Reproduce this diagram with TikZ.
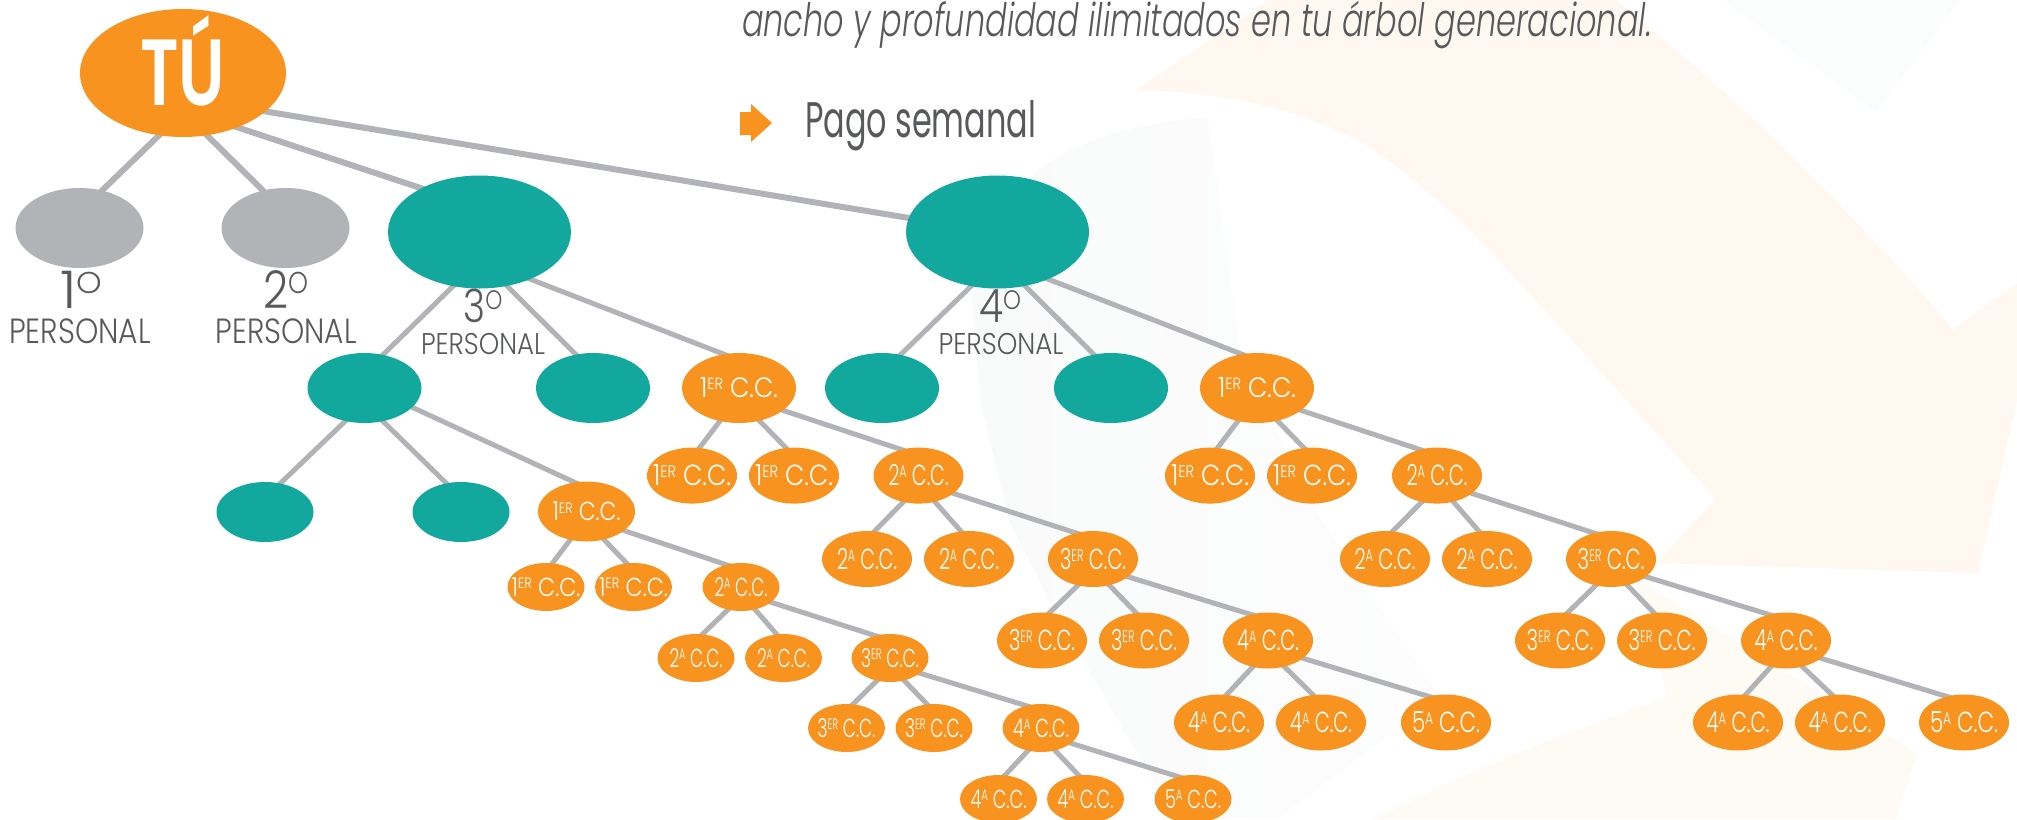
\documentclass[tikz,border=0pt]{standalone}
\usepackage{fontspec}
\usepackage{graphicx}
\setmainfont{Poppins}[UprightFont=* Light,ItalicFont=* Light Italic,BoldFont=* SemiBold]
\newfontfamily\popreg{Poppins}
\usetikzlibrary{shapes.geometric}
\definecolor{orangeC}{HTML}{F7931E}
\definecolor{tealC}{HTML}{12A89D}
\definecolor{greyC}{HTML}{B1B3B6}
\definecolor{inkC}{HTML}{58595B}
\definecolor{paleO}{HTML}{FEF8F1}
\definecolor{paleP}{HTML}{FEFAF4}
\definecolor{paleG}{HTML}{F9FAFA}
\definecolor{paleW}{HTML}{FDFDFD}
\newdimen\pxu \pxu=0.5pt
\newcommand\supr[1]{\raisebox{.28em}{\scalebox{.58}{#1}}}
\newcommand\fitw[2]{\resizebox{#1\pxu}{\height}{#2}}
\newcommand\inell[2]{\makebox[0pt]{\raisebox{-.35em}[0pt][0pt]{\fitw{#1}{#2}}}}
\newcommand\cc[3]{\inell{#1}{#2\supr{#3} C.C.}}
\newcommand\trio[4]{%
  \draw[link] (#1.-120) -- (#2.75);
  \draw[link] (#1.-58) -- (#3.106);
  \draw[link] (#1.-27) -- (#4.123);}
\pgfdeclarelayer{wash}
\pgfdeclarelayer{wires}
\pgfsetlayers{wash,wires,main}
\tikzset{
  x=0.5pt,y=-0.5pt,
  blob/.style={ellipse,inner sep=0pt,outer sep=0pt,text=white},
  tuE/.style={blob,fill=orangeC,minimum width=103pt,minimum height=64pt,font=\fontsize{47}{50}\selectfont\bfseries},
  greyE/.style={blob,fill=greyC,minimum width=64pt,minimum height=40pt},
  tealA/.style={blob,fill=tealC,minimum width=91.5pt,minimum height=56.5pt},
  tealB/.style={blob,fill=tealC,minimum width=57pt,minimum height=35pt},
  tealD/.style={blob,fill=tealC,minimum width=48.5pt,minimum height=30pt},
  orB/.style={blob,fill=orangeC,minimum width=57pt,minimum height=35pt,font=\fontsize{14}{16}\selectfont},
  orD/.style={blob,fill=orangeC,minimum width=48.5pt,minimum height=30pt,font=\fontsize{13}{15}\selectfont},
  orM/.style={blob,fill=orangeC,minimum width=45pt,minimum height=28pt,font=\fontsize{14.5}{16}\selectfont},
  orS/.style={blob,fill=orangeC,minimum width=38.5pt,minimum height=24pt,font=\fontsize{13}{15}\selectfont},
  link/.style={draw=greyC,line width=2.5pt,shorten <=-3pt,shorten >=-3pt},
  linkT/.style={link,line width=3pt},
  txt/.style={inner sep=0pt,outer sep=0pt,text=inkC,anchor=base},
  bigord/.style={txt,font=\fontsize{26}{28}\selectfont},
  midord/.style={txt,font=\fontsize{23}{26}\selectfont},
  perA/.style={txt,font=\fontsize{17.5}{20}\selectfont},
  perB/.style={txt,font=\fontsize{15}{18}\selectfont},
}
\begin{document}
\begin{tikzpicture}
\useasboundingbox (0,0) rectangle (2017,819);
\begin{pgfonlayer}{wash}
  \fill[paleG!60!white] (1723,0) -- (1876,112) -- (1960,0) -- cycle;
  \path[left color=paleG,right color=paleW] (1032,175) .. controls (1080,135) and (1150,122) .. (1208,117)
     -- (1240,353) -- (1313,507) -- (1440,697) -- (1280,817) -- (1190,819)
     -- (1164,800) -- (1056,613) -- (1010,523) -- (980,400) -- (972,293) -- cycle;
  \fill[paleO] (1269,0) -- (1136,90) .. controls (1230,92) and (1300,110) .. (1363,143)
     .. controls (1430,185) and (1495,255) .. (1551,317) -- (1716,499) -- (1656,563)
     -- (1978,573) -- (2017,400) -- (2017,283) -- (1953,330)
     .. controls (1900,265) and (1840,205) .. (1778,143)
     .. controls (1725,90) and (1670,45) .. (1616,0) -- cycle;
  \fill[paleP] (1637,580) -- (1917,753) -- (1896,819) -- (1374,819)
     .. controls (1470,770) and (1570,730) .. (1668,698) -- cycle;
\end{pgfonlayer}

\node[txt,anchor=base west,font=\fontsize{23}{26}\selectfont\itshape] (head) at (742,36)
  {\fitw{910}{ancho y profundidad ilimitados en tu árbol generacional.}};
\node[txt,anchor=base west,font=\fontsize{25}{28}\selectfont\popreg] (pago) at (805,137)
  {\fitw{231}{Pago semanal}};
\fill[orangeC] (740,112) -- (751,112) -- (751,104) -- (772,123) -- (751,142) -- (751,135) -- (740,135) -- cycle;

\node[tuE] (tu) at (183,73) {\inell{85}{TÚ}};
\node[greyE] (g1) at (79.5,228) {};
\node[greyE] (g2) at (285.5,228) {};
\node[tealA] (p3) at (479.5,232) {};
\node[tealA] (p4) at (997.5,232) {};

\node[bigord] (n1) at (81,308) {\fitw{42}{1\supr{O}}};
\node[bigord] (n2) at (286,308) {\fitw{45}{2\supr{O}}};
\node[midord] (n3) at (483,322) {\fitw{39}{3\supr{O}}};
\node[midord] (n4) at (1000,322) {\fitw{42}{4\supr{O}}};
\node[perA] (w1) at (80,343) {\fitw{141.5}{PERSONAL}};
\node[perA] (w2) at (286,343) {\fitw{141}{PERSONAL}};
\node[perB] (w3) at (483,354) {\fitw{124}{PERSONAL}};
\node[perB] (w4) at (1001,354) {\fitw{125}{PERSONAL}};

% third person
\node[tealB] (a1) at (364.5,388) {};
\node[tealB] (a2) at (593,388) {};
\node[orB] (a3) at (739,388) {\cc{78}{1}{ER}};
% fourth person
\node[tealB] (b1) at (882,388) {};
\node[tealB] (b2) at (1111,388) {};
\node[orB] (b3) at (1257,388) {\cc{78}{1}{ER}};

% branch under the first teal child
\node[tealD] (c1) at (265,512) {};
\node[tealD] (c2) at (461,512) {};
\node[orD] (c3) at (586.5,511.5) {\cc{68}{1}{ER}};
\node[orS] (c31) at (546,587) {\cc{69}{1}{ER}};
\node[orS] (c32) at (633.5,587) {\cc{69}{1}{ER}};
\node[orS] (c33) at (741,587) {\cc{53}{2}{A}};
\node[orS] (c41) at (696,658) {\cc{53}{2}{A}};
\node[orS] (c42) at (783.5,658) {\cc{53}{2}{A}};
\node[orS] (c43) at (890,658) {\cc{58}{3}{ER}};
\node[orS] (c51) at (846.5,728) {\cc{58}{3}{ER}};
\node[orS] (c52) at (934,728) {\cc{58}{3}{ER}};
\node[orS] (c53) at (1041,728) {\cc{56}{4}{A}};
\node[orS] (c61) at (998.5,799) {\cc{56}{4}{A}};
\node[orS] (c62) at (1085.5,799) {\cc{56}{4}{A}};
\node[orS] (c63) at (1193,799) {\cc{56}{5}{A}};

% middle branch
\node[orM] (d31) at (692,475.6) {\cc{78}{1}{ER}};
\node[orM] (d32) at (794,475.6) {\cc{78}{1}{ER}};
\node[orM] (d33) at (918.5,475.6) {\cc{60}{2}{A}};
\node[orM] (d41) at (867,559) {\cc{60}{2}{A}};
\node[orM] (d42) at (969,559) {\cc{60}{2}{A}};
\node[orM] (d43) at (1093,559) {\cc{66}{3}{ER}};
\node[orM] (d51) at (1042,640.5) {\cc{66}{3}{ER}};
\node[orM] (d52) at (1144,640.5) {\cc{66}{3}{ER}};
\node[orM] (d53) at (1268,640.5) {\cc{62}{4}{A}};
\node[orM] (d61) at (1219,722.5) {\cc{62}{4}{A}};
\node[orM] (d62) at (1321,722.5) {\cc{62}{4}{A}};
\node[orM] (d63) at (1446,722.5) {\cc{68}{5}{A}};

% right branch
\node[orM] (e31) at (1210,475.6) {\cc{78}{1}{ER}};
\node[orM] (e32) at (1312,475.6) {\cc{78}{1}{ER}};
\node[orM] (e33) at (1437,475.6) {\cc{61}{2}{A}};
\node[orM] (e41) at (1385,559) {\cc{61}{2}{A}};
\node[orM] (e42) at (1487,559) {\cc{61}{2}{A}};
\node[orM] (e43) at (1611,559) {\cc{67}{3}{ER}};
\node[orM] (e51) at (1560,640.5) {\cc{67}{3}{ER}};
\node[orM] (e52) at (1662,640.5) {\cc{67}{3}{ER}};
\node[orM] (e53) at (1786,640.5) {\cc{63}{4}{A}};
\node[orM] (e61) at (1738,722.5) {\cc{63}{4}{A}};
\node[orM] (e62) at (1840,722.5) {\cc{63}{4}{A}};
\node[orM] (e63) at (1964,722.5) {\cc{68}{5}{A}};

\begin{pgfonlayer}{wires}
  \draw[linkT] (tu.-111) -- (g1.59);
  \draw[linkT] (tu.-69) -- (g2.121);
  \draw[linkT] (tu.-45) -- (p3.143);
  \draw[linkT] (tu.-25) -- (p4.171);
  \draw[link] (p3.-116) -- (a1.61);
  \draw[link] (p3.-63) -- (a2.117);
  \draw[link] (p3.-43) -- (a3.114);
  \draw[link] (p4.-116) -- (b1.61);
  \draw[link] (p4.-63) -- (b2.117);
  \draw[link] (p4.-43) -- (b3.114);
  \draw[link] (a1.-120) -- (c1.62);
  \draw[link] (a1.-61) -- (c2.117);
  \draw[link] (a1.-22) -- (c3.112);
  \trio{c3}{c31}{c32}{c33}
  \trio{c33}{c41}{c42}{c43}
  \trio{c43}{c51}{c52}{c53}
  \trio{c53}{c61}{c62}{c63}
  \trio{a3}{d31}{d32}{d33}
  \trio{d33}{d41}{d42}{d43}
  \trio{d43}{d51}{d52}{d53}
  \trio{d53}{d61}{d62}{d63}
  \trio{b3}{e31}{e32}{e33}
  \trio{e33}{e41}{e42}{e43}
  \trio{e43}{e51}{e52}{e53}
  \trio{e53}{e61}{e62}{e63}
\end{pgfonlayer}
\end{tikzpicture}
\end{document}
